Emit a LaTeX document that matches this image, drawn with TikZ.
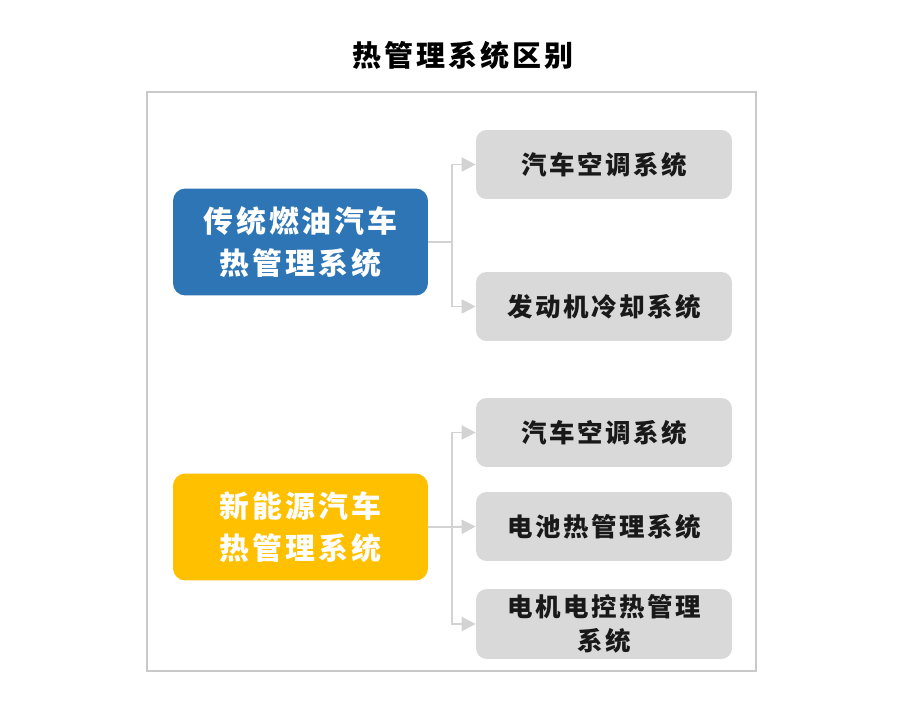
\documentclass[tikz,border=0pt]{standalone}
\usepackage{fontspec}
\newfontfamily\cjk{Noto Sans CJK SC}[LetterSpace=10]
\usetikzlibrary{arrows.meta, positioning}

\definecolor{sysblue}{HTML}{2E75B6}
\definecolor{sysyellow}{HTML}{FFC000}
\definecolor{subgray}{HTML}{D9D9D9}
\definecolor{linkgray}{HTML}{D3D3D3}
\definecolor{framegray}{HTML}{C9C9C9}

\begin{document}
\begin{tikzpicture}[
        x=0.02cm, y=-0.02cm,
        sysbox/.style={rectangle, rounded corners=7pt, minimum width=5.1cm, minimum height=2.14cm, align=center, text=white, font=\cjk\bfseries\fontsize{17}{24}\selectfont},
        subbox/.style={rectangle, rounded corners=6pt, fill=subgray, minimum width=5.12cm, minimum height=1.38cm, align=center, text=black!90, font=\cjk\bfseries\fontsize{14.5}{19}\selectfont},
        link/.style={draw=linkgray, line width=1.1pt},
        msg/.style={link, -{Triangle[length=8pt, width=8pt]}}
    ]
        \useasboundingbox (0,0) rectangle (900,706);
        \node[font=\cjk\bfseries\fontsize{16.5}{20}\selectfont] (title) at (463,55) {热管理系统区别};
        \draw[draw=framegray, line width=1.1pt] (147,92) rectangle (756,671);
        % left side
        \node[sysbox, fill=sysblue] (fuel) at (300.5,242) {传统燃油汽车\\热管理系统};
        \node[sysbox, fill=sysyellow] (nev) at (300.5,527) {新能源汽车\\热管理系统};
        % right side
        \node[subbox] (fuelac) at (604,164.5) {汽车空调系统};
        \node[subbox] (engine) at (604,306.5) {发动机冷却系统};
        \node[subbox] (nevac) at (604,432.5) {汽车空调系统};
        \node[subbox] (battery) at (604,526.5) {电池热管理系统};
        \node[subbox] (motor) at (604,624) {电机电控热管理\\系统};
        % connectors
        \draw[link] (fuel.east) -- ++(24,0) coordinate (fuelfork);
        \draw[msg] (fuelfork) |- (fuelac.west);
        \draw[msg] (fuelfork) |- (engine.west);
        \draw[link] (nev.east) -- ++(24,0) coordinate (nevfork);
        \draw[msg] (nevfork) |- (nevac.west);
        \draw[msg] (nevfork) -- (battery.west);
        \draw[msg] (nevfork) |- (motor.west);
    \end{tikzpicture}
\end{document}
